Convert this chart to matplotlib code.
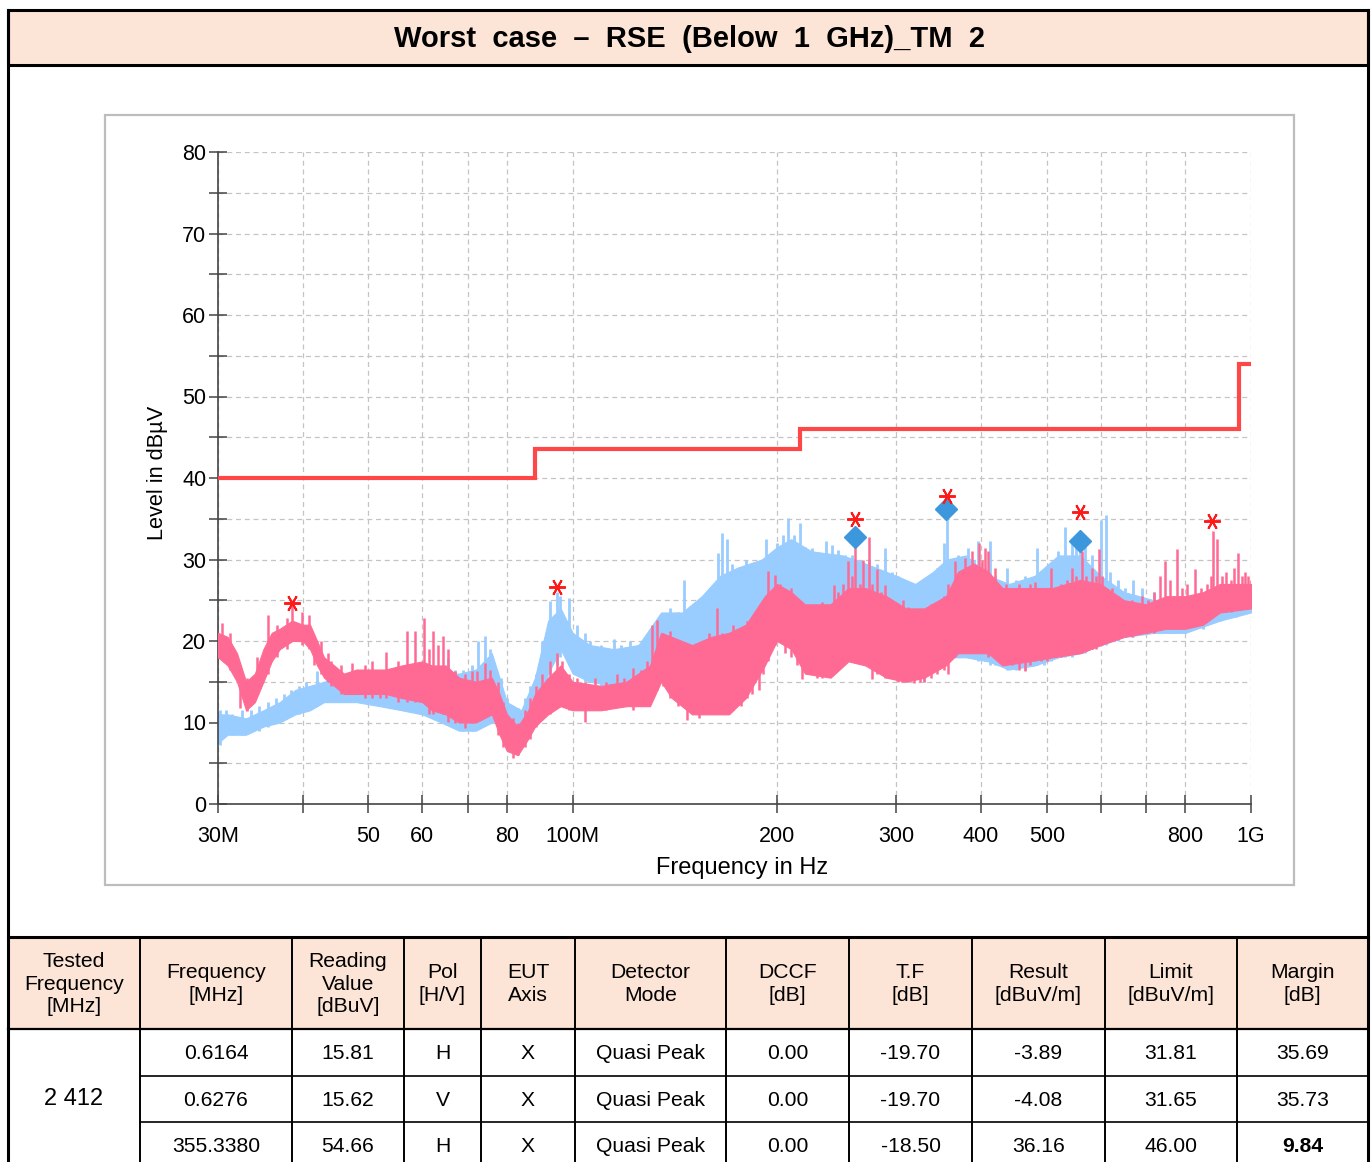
import matplotlib
matplotlib.use('Agg')
import matplotlib.pyplot as plt
from matplotlib.patches import Rectangle
from matplotlib.ticker import FixedLocator, NullLocator, MultipleLocator

plt.rcParams['font.family'] = ['Liberation Sans', 'DejaVu Sans']

# pink trace: core band (MHz, dB)
pink_f = [30, 31, 32, 33, 34, 35, 36, 37, 38.6, 40, 41, 42, 43, 44.5, 46, 48, 50, 53, 56, 60,
          62, 65, 68, 72, 76, 78, 80, 83, 86, 88, 92, 96, 100, 110, 120, 130, 135, 140, 150, 160,
          170, 180, 192, 200, 210, 220, 240, 255, 270, 290, 310, 330, 355, 370, 390, 410, 430, 470,
          510, 560, 600, 650, 700, 750, 800, 850, 900, 1000]
pink_lo = [18.0, 17.0, 15.0, 11.5, 12.5, 15.0, 17.5, 19.0, 20.0, 20.0, 19.0, 17.0, 15.5, 14.5, 13.5, 13.5, 13.5, 13.5, 13.0, 12.5,
           11.5, 11.0, 10.0, 10.0, 11.0, 8.5, 6.5, 6.0, 8.0, 9.5, 11.0, 12.0, 11.5, 11.5, 12.0, 12.0, 15.0, 13.0, 11.0, 11.0,
           11.0, 13.0, 17.0, 20.0, 19.0, 16.0, 15.5, 17.5, 17.0, 15.5, 15.0, 15.5, 17.0, 18.5, 18.5, 18.5, 17.0, 17.5,
           18.0, 18.5, 19.5, 20.5, 21.0, 21.5, 21.5, 22.0, 23.5, 24.0]
pink_hi = [21.0, 20.5, 18.5, 15.0, 16.0, 19.0, 21.0, 21.5, 22.5, 22.0, 22.0, 20.0, 18.0, 17.0, 16.0, 16.5, 16.5, 16.5, 17.0, 17.5,
           17.0, 17.0, 15.5, 15.0, 15.5, 13.5, 11.0, 9.5, 11.5, 13.5, 15.5, 17.0, 15.0, 14.5, 15.0, 17.0, 21.0, 20.5, 19.5, 20.5,
           21.0, 22.0, 25.5, 27.0, 26.0, 24.5, 24.5, 26.5, 26.5, 25.5, 24.0, 24.0, 25.5, 28.5, 29.5, 28.5, 26.5, 26.5,
           26.5, 27.5, 27.0, 25.0, 24.5, 25.5, 25.5, 26.0, 27.0, 27.0]
# pink vertical strokes: (MHz, bottom dB, top dB)
pink_strokes = [
    (30.4, 18, 22.2), (31.2, 16.5, 21), (32.3, 11.8, 17), (33.1, 11.4, 15.5), (34.3, 13.5, 18), (35.6, 16, 23.2),
    (36.6, 18, 22), (37.9, 19, 22.8), (38.6, 20, 24.5), (39.9, 19.5, 23.6), (40.8, 19, 23.2), (41.6, 17, 20.5),
    (42.5, 16, 20), (43.6, 15, 18.5), (44.0, 14.5, 17.5), (45.5, 13.5, 17), (47.2, 13.5, 17.3), (49.4, 13, 17),
    (50.6, 13, 17.5), (52, 13, 16.5), (53.1, 13, 18.7), (55.3, 12.5, 17.5), (56.9, 12.5, 21.2), (58.5, 12.5, 21.2),
    (60.4, 12.5, 22.8), (61.3, 11, 19), (62.2, 11, 21.2), (63.3, 11.5, 19.5), (64.4, 11, 20.6), (65.5, 10.1, 19),
    (67.1, 10, 16.3), (69.4, 9.3, 16), (71.0, 10, 16.3), (72.2, 10.5, 16.3), (74.3, 11, 17.3), (75.6, 11, 16.5),
    (77.5, 8.5, 15), (79, 7, 12.5), (81.6, 5.6, 10.5), (83, 6, 10), (85, 7, 11.5), (86.5, 8, 13), (88.4, 9.5, 14.5),
    (90, 10.5, 16), (92.6, 11, 17.5), (94.8, 12, 18.5), (96.5, 12.5, 17.5), (98.6, 11.5, 16), (101.5, 11.5, 15.5),
    (104.4, 10.1, 15), (108, 11.5, 15.5), (112, 11.5, 15), (116.2, 12, 16), (119, 12, 15.5), (122.9, 11.5, 16.7),
    (126, 12, 16.5), (128.6, 12, 17.5), (130.8, 13, 22), (133.1, 14, 22.6), (136, 14.5, 21), (139.2, 13, 21.2),
    (143, 12, 20), (147.4, 10.3, 19.5), (150, 11, 19), (153.3, 10.5, 19.5), (155.9, 11, 20), (159, 11, 21),
    (163.1, 11.5, 24), (166, 11, 21), (169, 11, 20), (172.6, 11.5, 22), (177, 12, 20.5), (181, 13, 22.4),
    (184, 13.5, 22.4), (188, 14, 23.6), (191, 16, 25), (194, 17.5, 28.6), (199, 19.5, 28.1), (202, 20, 27),
    (205.8, 18.5, 26), (210, 18, 26.5), (214, 17, 25), (218, 15.3, 24), (222, 16, 23.5), (225, 16, 24),
    (229, 15.5, 23), (233, 15.5, 24.8), (238, 16, 24.5), (243, 16.5, 26.9), (246, 17, 26), (250, 17, 27),
    (255, 17.5, 29.8), (258, 18, 28), (261, 18, 32.8), (265, 17.5, 27), (268, 17.5, 30), (273, 17, 32.7),
    (276, 15.3, 27), (281, 16, 28.8), (285, 16, 26), (289, 15.5, 26.9), (295, 15.5, 25), (302, 15, 24),
    (307, 15, 25), (312, 15, 24.2), (319, 14.9, 23.5), (325, 15, 23.5), (330, 15, 23.7), (338, 15.5, 24.5),
    (345, 16, 24), (353, 16.5, 25.5), (358, 15.9, 27), (366, 18, 29.8), (372, 18.5, 28.5), (379, 18.5, 30.2),
    (384, 18.5, 29), (388, 18.5, 31), (397, 19, 32), (401, 18.5, 30), (405, 18.5, 31.4), (410, 18, 31),
    (419, 18, 29), (429, 17.5, 26.5), (436, 17.5, 27), (444, 17, 26.5), (455, 16.5, 27), (465, 16.3, 26),
    (472, 17, 27), (480, 17.5, 27.3), (490, 17.5, 26.5), (500, 17.5, 26), (508, 18, 29), (515, 18, 26.5),
    (525, 18, 27), (535, 18.5, 27.5), (544, 18.5, 29), (553, 18.5, 28), (563, 18.5, 31), (572, 19, 28),
    (583, 19, 29), (590, 19, 28), (596, 19.5, 31.3), (603, 19.5, 28), (612, 20, 26.5), (624, 20, 26.5),
    (636, 20.5, 25.5), (652, 20.5, 24.5), (668, 20.5, 25), (690, 21, 25.5), (705, 21, 25), (720, 21, 26),
    (735, 21.5, 28), (747, 21.5, 29.8), (760, 21.5, 27.5), (777, 21.5, 31.3), (790, 22, 26.5), (805, 22, 27),
    (827, 22, 28.8), (845, 22.5, 26.5), (860, 23, 27), (872, 23.5, 28), (880, 24, 33.5), (890, 24, 32.5),
    (905, 23.5, 28), (920, 23.5, 28.5), (935, 23.5, 27.5), (945, 24, 29), (958, 24, 30.8), (970, 24, 28),
    (980, 24, 28.5), (991, 24, 28), (1000, 24.5, 27.5)]

# blue trace
blue_f = [30, 31, 33, 35, 37, 39, 41, 43, 45, 48, 52, 56, 60, 64, 68, 72, 76, 78, 80, 84,
          88, 92, 96, 100, 106, 115, 125, 135, 145, 155, 165, 175, 190, 200, 210, 225, 250, 270, 300, 320,
          340, 356, 380, 410, 440, 480, 520, 560, 600, 650, 720, 800, 900, 1000]
blue_lo = [7.5, 8.5, 8.5, 9.5, 10.0, 11.0, 11.5, 12.5, 12.5, 12.5, 12.0, 11.5, 11.0, 10.0, 9.0, 9.0, 10.0, 10.0, 8.0, 7.5,
           10.0, 16.0, 19.0, 16.0, 15.0, 14.5, 14.5, 16.5, 17.0, 18.0, 19.0, 20.0, 21.0, 24.0, 25.0, 22.0, 22.0, 19.5, 16.0, 15.5,
           17.0, 18.0, 18.0, 17.5, 16.5, 17.0, 18.0, 18.5, 19.5, 20.5, 21.0, 21.0, 22.5, 23.5]
blue_hi = [11.0, 11.0, 10.5, 11.5, 12.5, 14.0, 14.5, 15.0, 15.5, 15.0, 15.0, 14.5, 15.0, 16.0, 16.0, 16.5, 18.5, 15.5, 12.5, 11.5,
           15.5, 22.5, 24.0, 21.0, 19.5, 19.0, 19.5, 23.5, 23.5, 25.5, 28.0, 29.0, 30.0, 31.5, 32.5, 31.0, 30.5, 29.5, 28.0, 27.0,
           28.5, 30.0, 30.5, 28.0, 27.0, 28.0, 30.5, 30.5, 28.0, 26.0, 25.0, 24.5, 25.5, 26.5]
blue_strokes = [
    (30.2, 7.3, 11.5), (30.8, 8.5, 11.5), (31.5, 8.5, 11), (32.5, 8.5, 11.5), (33.5, 9, 11.5), (34.5, 9, 12),
    (35.5, 9.5, 12.5), (36.5, 10, 13), (37.5, 10.5, 13.5), (38.5, 11, 14), (39.5, 11, 14.5), (40.5, 11.5, 15),
    (42, 12, 16.3), (43.5, 12.5, 15.5), (45, 12.5, 16), (46.5, 12.5, 15.5), (48, 12.5, 15.5), (50, 12.5, 15.5),
    (52, 12, 15.5), (54, 12, 15), (56, 11.5, 15), (58, 11.5, 15), (60, 11, 15.5), (62, 10.5, 16), (64, 10, 16.5),
    (65.5, 10, 17.9), (67, 9.5, 16.5), (69, 9, 16.5), (71, 9, 17), (72.5, 9.5, 20), (74.3, 10, 20.6),
    (75.6, 10, 19), (77, 10, 16), (78.5, 9.5, 15.4), (80, 8, 13), (81.6, 7.8, 12), (83, 7.5, 11.8), (85, 8, 13),
    (86.5, 9, 14.5), (88.4, 10, 16), (90, 13, 20), (92.6, 16, 24.9), (94.8, 17, 26), (95.9, 18, 25.5),
    (98.6, 17, 25.3), (101.5, 16, 22), (104.4, 15, 21), (106.2, 15, 20), (110, 14.5, 19.5), (114.9, 14.5, 20.2),
    (118, 14.5, 19.5), (121.5, 14.5, 20), (125, 14.5, 19.5), (128.6, 15, 20), (133, 16, 22.5), (139.2, 16.5, 24),
    (143, 17, 23.5), (146, 17, 27.5), (150, 17.5, 23.5), (155.9, 18, 24.5), (160, 18.5, 26), (164, 19, 30.8),
    (165.9, 19, 33.3), (169, 19.5, 32.5), (171.6, 19.5, 29.5), (175, 20, 29), (180, 20.5, 30), (186, 21, 29),
    (193, 22, 32.5), (200, 24, 32), (204, 24.5, 33), (208, 25, 35.1), (212, 25, 33), (216, 24.5, 34.5),
    (220, 23.5, 31.5), (225, 22.5, 31.4), (229, 22, 30.5), (236, 22, 32.3), (241, 22, 31.8), (246, 22, 31.2),
    (252, 22, 30.5), (258, 21.5, 30.5), (266, 20, 30), (273, 19.5, 30), (281, 19, 29.5), (289, 18, 31.4),
    (296, 17, 28.5), (302, 16.5, 28), (307, 16, 27.6), (315, 15.5, 27), (322, 15.5, 26.5), (330, 15, 26.5),
    (338, 16.5, 28), (345, 17, 29), (353, 17.5, 32), (356.4, 18, 36.2), (362, 18, 30), (370, 18, 30.5),
    (382, 18, 31.4), (390, 18, 30), (396, 17.5, 32.3), (405, 17.5, 29), (412, 17, 32.3), (420, 17, 28),
    (437, 16.5, 29), (450, 16.5, 27.5), (465, 16.5, 28), (483, 17, 31.4), (495, 17, 28.5), (508, 17.5, 29.5),
    (520, 18, 31), (532, 18, 34), (544, 18, 32), (553, 18.5, 31.5), (559.8, 18.5, 33), (570, 18.5, 31.5),
    (583, 19, 30.5), (601, 19.5, 34.8), (611, 19.5, 35.4), (620, 20, 28.5), (636, 20, 27.5), (652, 20.5, 26.5),
    (670, 20.5, 27.5), (690, 21, 26.5), (720, 21, 26), (760, 21, 25.5), (800, 21, 25), (850, 21.5, 25.5),
    (900, 22.5, 26), (950, 23, 26.5), (1000, 23.5, 27)]

limit_edges = [30, 88, 216, 960, 1000]
limit_levels = [40, 43.5, 46, 54]

peak_f = [38.6, 94.8, 260.8, 356.4, 559.8, 876]
peak_db = [24.7, 26.6, 35.0, 37.8, 35.8, 34.7]
qp_f = [260.8, 355.338, 559.8]
qp_db = [32.8, 36.16, 32.3]

xtick_vals = [30, 40, 50, 60, 70, 80, 100, 200, 300, 400, 500, 600, 700, 800, 1000]
xtick_text = ['30M', '', '50', '60', '', '80', '100M', '200', '300', '400', '500', '', '', '800', '1G']

# table
head = ['Tested\nFrequency\n[MHz]', 'Frequency\n[MHz]', 'Reading\nValue\n[dBuV]', 'Pol\n[H/V]',
        'EUT\nAxis', 'Detector\nMode', 'DCCF\n[dB]', 'T.F\n[dB]', 'Result\n[dBuV/m]',
        'Limit\n[dBuV/m]', 'Margin\n[dB]']
tested_freq = '2 412'
freq_mhz = ['0.6164', '0.6276', '355.3380']
reading = ['15.81', '15.62', '54.66']
pol = ['H', 'V', 'H']
eut_axis = ['X', 'X', 'X']
detector = ['Quasi Peak', 'Quasi Peak', 'Quasi Peak']
dccf = ['0.00', '0.00', '0.00']
tf = ['-19.70', '-19.70', '-18.50']
result = ['-3.89', '-4.08', '36.16']
limit = ['31.81', '31.65', '46.00']
margin = ['35.69', '35.73', '9.84']

W, H = 1372, 1162
fig = plt.figure(figsize=(W / 100, H / 100), dpi=100)

ov = fig.add_axes([0, 0, 1, 1])
ov.set_xlim(0, W)
ov.set_ylim(H, 0)
ov.axis('off')
peach = '#fce4d6'

# frame + title band
ov.add_patch(Rectangle((8, 10), 1360, 55, facecolor=peach, edgecolor='black', lw=2.2))
ov.plot([8, 8], [10, H], color='black', lw=2.2)
ov.plot([1368, 1368], [10, H], color='black', lw=2.2)
ov.text(689, 39, 'Worst  case  \u2013  RSE  (Below  1  GHz)_TM  2', ha='center', va='center',
        fontsize=21, fontweight='bold')

# chart panel
ov.add_patch(Rectangle((105, 115), 1189, 770, facecolor='white', edgecolor='#bdbdbd', lw=1.6))

# table
cols = [8, 140, 292, 404, 481, 575, 726, 849, 972, 1105, 1237, 1368]
rows = [937, 1029, 1076, 1122, 1169]
ov.add_patch(Rectangle((8, rows[0]), 1360, rows[1] - rows[0], facecolor=peach, edgecolor='none'))
ov.plot([8, 1368], [rows[0], rows[0]], color='black', lw=2.2)
ov.plot([8, 1368], [rows[1], rows[1]], color='black', lw=1.6)
for r in rows[2:4]:
    ov.plot([cols[1], 1368], [r, r], color='black', lw=1.2)
for c in cols[1:-1]:
    ov.plot([c, c], [rows[0], H], color='black', lw=1.4)
tfs = 15.2
for i, txt in enumerate(head):
    ov.text((cols[i] + cols[i + 1]) / 2, (rows[0] + rows[1]) / 2 + 1, txt, ha='center', va='center',
            fontsize=tfs, linespacing=1.25)
ov.text((cols[0] + cols[1]) / 2, (rows[1] + rows[4]) / 2, tested_freq, ha='center', va='center', fontsize=17)
table_cols = [freq_mhz, reading, pol, eut_axis, detector, dccf, tf, result, limit, margin]
for j, colvals in enumerate(table_cols):
    for i, v in enumerate(colvals):
        bold = (j == len(table_cols) - 1 and i == 2)
        ov.text((cols[j + 1] + cols[j + 2]) / 2, (rows[i + 1] + rows[i + 2]) / 2 + 1, v,
                ha='center', va='center', fontsize=tfs, fontweight='bold' if bold else 'normal')

# plot
ax = fig.add_axes([218 / W, 1 - 804 / H, 1033 / W, 652 / H])
ax.set_facecolor('none')
ax.set_xscale('log')
blue = '#99ccff'
pink = '#ff6a94'
ax.fill_between(blue_f, blue_lo, blue_hi, color=blue, lw=0.8, zorder=2)
ax.vlines([s[0] for s in blue_strokes], [s[1] for s in blue_strokes], [s[2] for s in blue_strokes],
          color=blue, lw=2.0, zorder=2)
ax.fill_between(pink_f, pink_lo, pink_hi, color=pink, lw=0.8, zorder=3)
ax.vlines([s[0] for s in pink_strokes], [s[1] for s in pink_strokes], [s[2] for s in pink_strokes],
          color=pink, lw=1.8, zorder=3)
ax.stairs(limit_levels, limit_edges, baseline=None, color='#ff4747', lw=3.0, zorder=4)
ax.plot(qp_f, qp_db, ls='none', marker='D', ms=11, color='#3c97dc', zorder=5)
ax.plot(peak_f, peak_db, ls='none', marker=(6, 2, 90), ms=12, mew=1.4, color='#ff1a1a', zorder=6)

ax.set_xlim(30, 1000)
ax.set_ylim(0, 80)
ax.xaxis.set_major_locator(FixedLocator(xtick_vals))
ax.xaxis.set_minor_locator(NullLocator())
ax.set_xticklabels(xtick_text)
ax.yaxis.set_major_locator(MultipleLocator(10))
ax.yaxis.set_minor_locator(MultipleLocator(5))
ax.grid(True, which='both', color='#c4c4c4', ls=(0, (4, 3)), lw=0.9, zorder=0)
for s in ('top', 'right'):
    ax.spines[s].set_visible(False)
for s in ('left', 'bottom'):
    ax.spines[s].set_color('#444444')
    ax.spines[s].set_linewidth(1.2)
ax.tick_params(which='both', direction='inout', length=13, width=1.1, color='#444444', labelsize=15.5)
ax.tick_params(axis='y', pad=2)
ax.tick_params(axis='x', pad=9)
ax.set_xlabel('Frequency in Hz', fontsize=17, va='center')
ax.xaxis.set_label_coords((742 - 218) / 1033, -(868 - 804) / 652)
ax.set_ylabel('Level in dB\u00b5V', fontsize=15.7, va='center')
ax.yaxis.set_label_coords((158 - 218) / 1033, (804 - 473) / 652)

fig.savefig('out.png', dpi=100)
